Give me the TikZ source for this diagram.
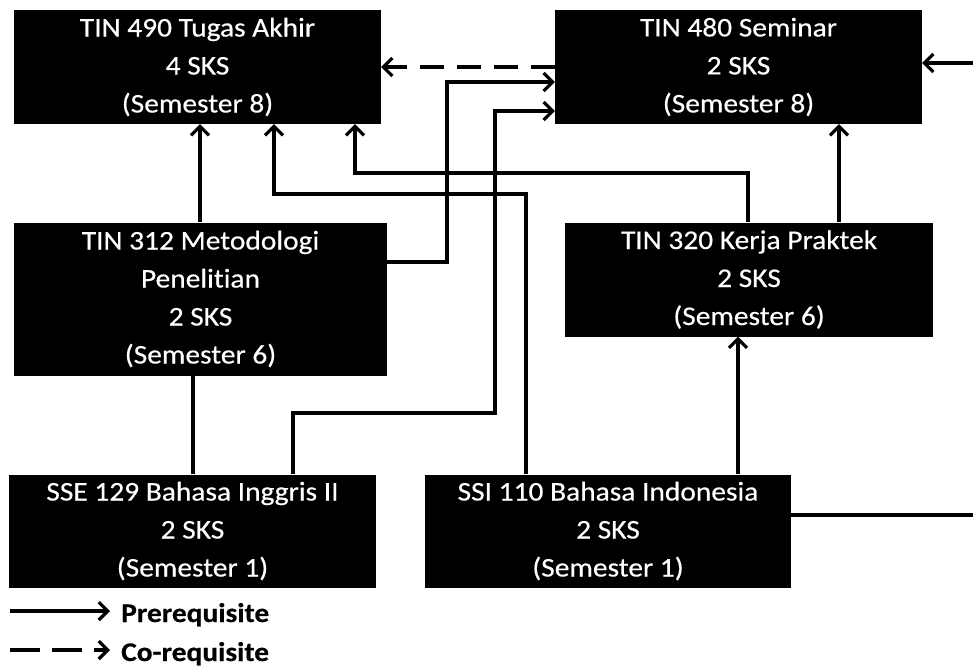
\documentclass[tikz,border=0pt]{standalone}
\usepackage{fontspec}
\setmainfont{Carlito}[FakeStretch=1.09, Ligatures=NoCommon, FakeBold=0.4]
\usetikzlibrary{arrows.meta}
\tikzset{
  course/.style={fill=black, text=white, inner sep=0pt, align=center,
    font=\fontsize{27}{38}\selectfont},
  wide/.style={minimum width=367pt, minimum height=114pt},
  link/.style={line width=3.2pt, ->},
  colink/.style={line width=3.2pt, ->, dash pattern=on 24pt off 13pt},
  legendtext/.style={inner sep=0pt, anchor=base west, font=\fontsize{27}{30}\selectfont\bfseries}
}
\begin{document}
\begin{tikzpicture}[x=1pt, y=-1pt, >={Straight Barb[length=9pt,width=18pt]}]
\useasboundingbox (0,0) rectangle (973,667);

\node[course, wide] (t490) at (197.5,67) {TIN 490 Tugas Akhir\\4 SKS\\(Semester 8)};
\node[course, wide] (t480) at (738.5,67) {TIN 480 Seminar\\2 SKS\\(Semester 8)};
\node[course, minimum width=373pt, minimum height=153pt] (t312) at (200.5,299) {TIN 312 Metodologi\\Penelitian\\2 SKS\\(Semester 6)};
\node[course, minimum width=368pt, minimum height=114pt] (t320) at (749,279.5) {TIN 320 Kerja Praktek\\2 SKS\\(Semester 6)};
\node[course, minimum width=367pt, minimum height=113pt] (s129) at (192.5,531) {SSE 129 Bahasa Inggris II\\2 SKS\\(Semester 1)};
\node[course, minimum width=366pt, minimum height=113pt] (s110) at (608,531) {SSI 110 Bahasa Indonesia\\2 SKS\\(Semester 1)};

% co-requisite
\draw[colink] (t480.west |- 0,67) -- (t490.east |- 0,67);
% prerequisites
\draw[link] (t312.north -| 200,0) -- (t490.south -| 200,0);
\draw[link] (t312.east |- 0,262) -| (447,82) -- (t480.west |- 0,82);
\draw[link] (s129.north -| 293,0) |- (495,413) |- (t480.west |- 0,111);
\draw[line width=3.2pt] (t312.south -| 193,0) -- (s129.north -| 193,0);
\draw[link] (s110.north -| 526,0) |- (274,194) -- (t490.south -| 274,0);
\draw[link] (t320.north -| 748,0) |- (355,173) -- (t490.south -| 355,0);
\draw[link] (t320.north -| 839,0) -- (t480.south -| 839,0);
\draw[link] (s110.north -| 738,0) -- (t320.south -| 738,0);
\begin{scope}
\clip (0,0) rectangle (973,667);
\coordinate (rb) at (990,515);
\coordinate (rt) at (990,63);
\draw[link] (s110.east |- 0,515) -- (rb) -- (rt) -- (t480.east |- 0,63);
\end{scope}

% legend
\coordinate (pa) at (10,611);
\coordinate (pb) at (110,611);
\coordinate (ca) at (10,650);
\coordinate (cb) at (110,650);
\draw[line width=3.2pt, ->] (pa) -- (pb);
\draw[line width=3.2pt, ->, dash pattern=on 30pt off 12pt] (ca) -- (cb);
\node[legendtext] (lp) at (121,622) {Prerequisite};
\node[legendtext] (lc) at (121,661) {Co-requisite};
\end{tikzpicture}
\end{document}
